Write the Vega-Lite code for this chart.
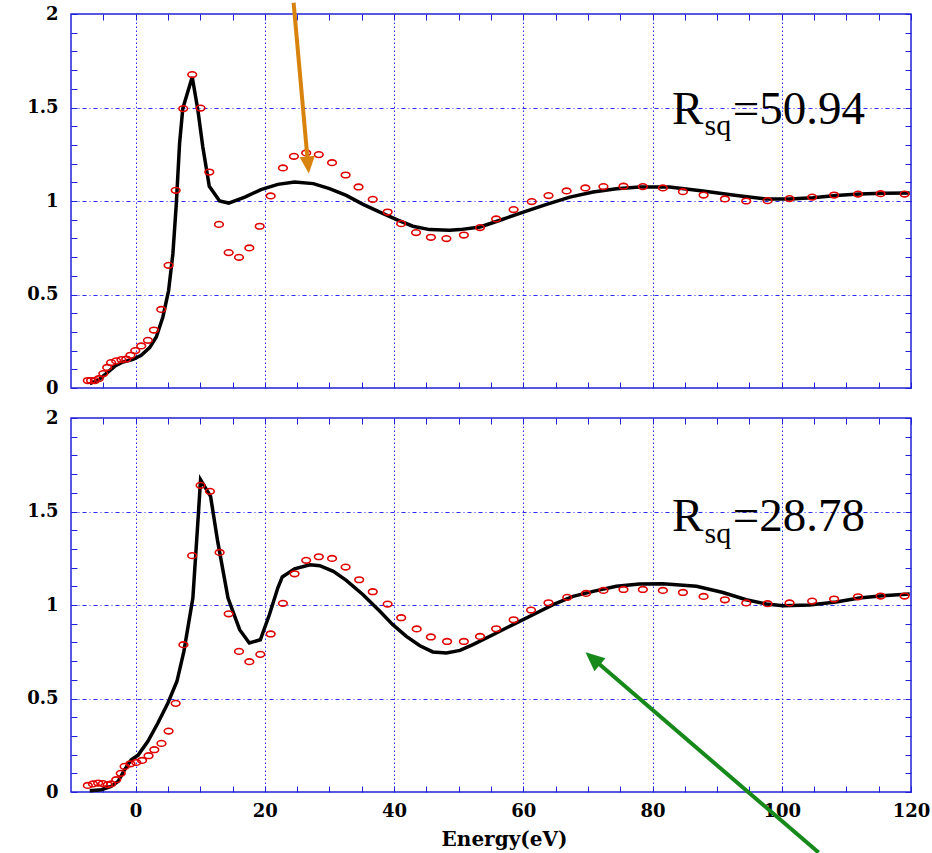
{
  "$schema": "https://vega.github.io/schema/vega-lite/v6.json",
  "padding": {"left": 25, "top": 0, "right": 0, "bottom": 0},
  "spacing": 30,
  "bounds": "flush",
  "background": "white",
  "config": {
    "view": {"stroke": "#2020d8", "strokeWidth": 1.5},
    "axis": {
      "labelFont": "DejaVu Serif", "labelFontWeight": "bold", "labelFontSize": 18, "labelColor": "#000000",
      "titleFont": "DejaVu Serif", "titleFontWeight": "bold", "titleFontSize": 20, "titleColor": "#000000",
      "domain": false, "tickColor": "#2020d8", "tickSize": -6, "tickWidth": 1,
      "gridColor": "#2a2af0", "gridWidth": 1, "labelOverlap": false, "labelFlush": false
    }
  },
  "datasets": {
    "fit_top": [
      {"e": -7.1, "v": 0.023}, {"e": -5.8, "v": 0.041}, {"e": -4.55, "v": 0.077}, {"e": -3.25, "v": 0.116},
      {"e": -1.96, "v": 0.139}, {"e": -0.4, "v": 0.153}, {"e": 0.87, "v": 0.175}, {"e": 2.17, "v": 0.216},
      {"e": 3.2, "v": 0.273}, {"e": 4.22, "v": 0.38}, {"e": 5.1, "v": 0.52}, {"e": 5.77, "v": 0.718},
      {"e": 6.3, "v": 0.986}, {"e": 6.8, "v": 1.307}, {"e": 7.3, "v": 1.494}, {"e": 8.76, "v": 1.663},
      {"e": 9.64, "v": 1.485}, {"e": 10.4, "v": 1.289}, {"e": 11.4, "v": 1.079}, {"e": 13.0, "v": 1.0},
      {"e": 14.4, "v": 0.989}, {"e": 16.9, "v": 1.021}, {"e": 19.4, "v": 1.061}, {"e": 22.0, "v": 1.089},
      {"e": 24.6, "v": 1.102}, {"e": 27.5, "v": 1.093}, {"e": 30.0, "v": 1.066}, {"e": 32.6, "v": 1.03},
      {"e": 35.2, "v": 0.982}, {"e": 37.8, "v": 0.941}, {"e": 40.4, "v": 0.9}, {"e": 42.9, "v": 0.865},
      {"e": 45.5, "v": 0.847}, {"e": 48.6, "v": 0.843}, {"e": 50.2, "v": 0.847}, {"e": 53.3, "v": 0.861},
      {"e": 56.4, "v": 0.897}, {"e": 60.0, "v": 0.941}, {"e": 63.6, "v": 0.982}, {"e": 67.2, "v": 1.021},
      {"e": 70.8, "v": 1.048}, {"e": 74.4, "v": 1.066}, {"e": 78.0, "v": 1.075}, {"e": 82.6, "v": 1.075},
      {"e": 87.8, "v": 1.053}, {"e": 93.0, "v": 1.03}, {"e": 97.6, "v": 1.011}, {"e": 101.2, "v": 1.011},
      {"e": 104.8, "v": 1.018}, {"e": 108.4, "v": 1.03}, {"e": 112.0, "v": 1.037}, {"e": 115.6, "v": 1.041},
      {"e": 119.8, "v": 1.043}
    ],
    "exp_top": [
      {"e": -7.4, "v": 0.04}, {"e": -6.9, "v": 0.04}, {"e": -6.3, "v": 0.04}, {"e": -5.7, "v": 0.05},
      {"e": -5.0, "v": 0.077}, {"e": -4.4, "v": 0.11}, {"e": -3.8, "v": 0.136}, {"e": -3.0, "v": 0.145},
      {"e": -2.2, "v": 0.152}, {"e": -1.45, "v": 0.155}, {"e": -0.8, "v": 0.175}, {"e": -0.05, "v": 0.2},
      {"e": 0.87, "v": 0.225}, {"e": 1.9, "v": 0.255}, {"e": 2.83, "v": 0.31}, {"e": 3.97, "v": 0.42},
      {"e": 5.1, "v": 0.656}, {"e": 6.2, "v": 1.057}, {"e": 7.37, "v": 1.494}, {"e": 8.76, "v": 1.676},
      {"e": 10.05, "v": 1.497}, {"e": 11.4, "v": 1.155}, {"e": 12.9, "v": 0.875}, {"e": 14.4, "v": 0.724},
      {"e": 16.0, "v": 0.699}, {"e": 17.6, "v": 0.749}, {"e": 19.2, "v": 0.865}, {"e": 20.9, "v": 1.027},
      {"e": 22.8, "v": 1.177}, {"e": 24.5, "v": 1.239}, {"e": 26.4, "v": 1.257}, {"e": 28.35, "v": 1.248},
      {"e": 30.4, "v": 1.205}, {"e": 32.5, "v": 1.139}, {"e": 34.5, "v": 1.075}, {"e": 36.7, "v": 1.009},
      {"e": 39.0, "v": 0.941}, {"e": 41.1, "v": 0.879}, {"e": 43.4, "v": 0.831}, {"e": 45.7, "v": 0.806},
      {"e": 48.1, "v": 0.799}, {"e": 50.8, "v": 0.818}, {"e": 53.3, "v": 0.858}, {"e": 55.8, "v": 0.904},
      {"e": 58.5, "v": 0.954}, {"e": 61.3, "v": 0.997}, {"e": 63.9, "v": 1.029}, {"e": 66.7, "v": 1.054},
      {"e": 69.6, "v": 1.07}, {"e": 72.4, "v": 1.077}, {"e": 75.5, "v": 1.079}, {"e": 78.5, "v": 1.077},
      {"e": 81.6, "v": 1.07}, {"e": 84.7, "v": 1.05}, {"e": 87.9, "v": 1.032}, {"e": 91.2, "v": 1.011},
      {"e": 94.5, "v": 1.0}, {"e": 97.8, "v": 1.002}, {"e": 101.2, "v": 1.013}, {"e": 104.7, "v": 1.021},
      {"e": 108.1, "v": 1.032}, {"e": 111.8, "v": 1.037}, {"e": 115.3, "v": 1.039}, {"e": 119.0, "v": 1.037}
    ],
    "fit_bot": [
      {"e": -7.1, "v": 0.007}, {"e": -5.3, "v": 0.012}, {"e": -3.8, "v": 0.03}, {"e": -2.7, "v": 0.057},
      {"e": -1.7, "v": 0.119}, {"e": -0.68, "v": 0.173}, {"e": 0.36, "v": 0.196}, {"e": 1.9, "v": 0.271},
      {"e": 3.45, "v": 0.369}, {"e": 5.0, "v": 0.476}, {"e": 6.4, "v": 0.592}, {"e": 7.47, "v": 0.752},
      {"e": 8.86, "v": 1.037}, {"e": 9.64, "v": 1.447}, {"e": 10.05, "v": 1.67}, {"e": 11.6, "v": 1.581},
      {"e": 12.7, "v": 1.34}, {"e": 14.3, "v": 1.037}, {"e": 16.1, "v": 0.868}, {"e": 17.6, "v": 0.797},
      {"e": 19.3, "v": 0.814}, {"e": 20.7, "v": 0.948}, {"e": 22.0, "v": 1.091}, {"e": 22.7, "v": 1.15},
      {"e": 24.6, "v": 1.193}, {"e": 27.0, "v": 1.215}, {"e": 28.5, "v": 1.21}, {"e": 30.6, "v": 1.18},
      {"e": 32.6, "v": 1.132}, {"e": 35.2, "v": 1.055}, {"e": 37.8, "v": 0.966}, {"e": 39.8, "v": 0.895},
      {"e": 41.9, "v": 0.832}, {"e": 44.0, "v": 0.782}, {"e": 46.0, "v": 0.749}, {"e": 48.1, "v": 0.743},
      {"e": 50.2, "v": 0.757}, {"e": 52.2, "v": 0.788}, {"e": 55.3, "v": 0.841}, {"e": 58.4, "v": 0.895},
      {"e": 61.5, "v": 0.948}, {"e": 64.6, "v": 1.002}, {"e": 67.7, "v": 1.046}, {"e": 70.8, "v": 1.073},
      {"e": 74.4, "v": 1.1}, {"e": 78.0, "v": 1.112}, {"e": 81.6, "v": 1.114}, {"e": 86.8, "v": 1.1},
      {"e": 90.9, "v": 1.067}, {"e": 94.5, "v": 1.028}, {"e": 97.6, "v": 1.005}, {"e": 100.2, "v": 0.996},
      {"e": 104.3, "v": 1.0}, {"e": 108.4, "v": 1.016}, {"e": 112.0, "v": 1.037}, {"e": 115.6, "v": 1.05},
      {"e": 119.8, "v": 1.059}
    ],
    "exp_bot": [
      {"e": -7.4, "v": 0.035}, {"e": -6.6, "v": 0.043}, {"e": -5.8, "v": 0.048}, {"e": -5.06, "v": 0.045},
      {"e": -4.3, "v": 0.039}, {"e": -3.8, "v": 0.043}, {"e": -3.0, "v": 0.066}, {"e": -2.3, "v": 0.1},
      {"e": -1.7, "v": 0.137}, {"e": -0.8, "v": 0.151}, {"e": 0.1, "v": 0.158}, {"e": 1.0, "v": 0.169},
      {"e": 2.0, "v": 0.194}, {"e": 2.9, "v": 0.226}, {"e": 4.0, "v": 0.26}, {"e": 5.1, "v": 0.326},
      {"e": 6.2, "v": 0.474}, {"e": 7.4, "v": 0.788}, {"e": 8.75, "v": 1.264}, {"e": 10.05, "v": 1.64},
      {"e": 11.5, "v": 1.608}, {"e": 13.0, "v": 1.281}, {"e": 14.4, "v": 0.953}, {"e": 16.0, "v": 0.752},
      {"e": 17.6, "v": 0.697}, {"e": 19.3, "v": 0.736}, {"e": 20.9, "v": 0.845}, {"e": 22.8, "v": 1.009},
      {"e": 24.6, "v": 1.167}, {"e": 26.4, "v": 1.239}, {"e": 28.35, "v": 1.258}, {"e": 30.4, "v": 1.249},
      {"e": 32.5, "v": 1.203}, {"e": 34.6, "v": 1.135}, {"e": 36.7, "v": 1.071}, {"e": 39.0, "v": 1.005},
      {"e": 41.1, "v": 0.932}, {"e": 43.5, "v": 0.872}, {"e": 45.7, "v": 0.829}, {"e": 48.2, "v": 0.805},
      {"e": 50.8, "v": 0.805}, {"e": 53.3, "v": 0.832}, {"e": 55.8, "v": 0.873}, {"e": 58.5, "v": 0.921},
      {"e": 61.2, "v": 0.973}, {"e": 63.9, "v": 1.012}, {"e": 66.8, "v": 1.041}, {"e": 69.7, "v": 1.062},
      {"e": 72.4, "v": 1.078}, {"e": 75.5, "v": 1.083}, {"e": 78.5, "v": 1.083}, {"e": 81.6, "v": 1.078},
      {"e": 84.7, "v": 1.067}, {"e": 87.9, "v": 1.046}, {"e": 91.2, "v": 1.028}, {"e": 94.5, "v": 1.011},
      {"e": 97.8, "v": 1.007}, {"e": 101.2, "v": 1.011}, {"e": 104.7, "v": 1.021}, {"e": 108.1, "v": 1.032},
      {"e": 111.8, "v": 1.044}, {"e": 115.3, "v": 1.048}, {"e": 119.0, "v": 1.048}
    ],
    "label_top_main": [{"e": 83.0, "v": 1.414, "t": "R"}, {"e": 92.4, "v": 1.414, "t": "=50.94"}],
    "label_top_sub": [{"e": 88.06, "v": 1.351, "t": "sq"}],
    "label_bot_main": [{"e": 83.0, "v": 1.394, "t": "R"}, {"e": 92.4, "v": 1.394, "t": "=28.78"}],
    "label_bot_sub": [{"e": 88.06, "v": 1.329, "t": "sq"}],
    "arrow_top": [{"e": 24.45, "v": 2.06, "e2": 26.68, "v2": 1.195}],
    "arrow_top_head": [{"e": 26.68, "v": 1.195}],
    "arrow_bot": [{"e": 105.7, "v": -0.324, "e2": 70.8, "v2": 0.712}],
    "arrow_bot_head": [{"e": 70.8, "v": 0.712}]
  },
  "vconcat": [
    {
      "width": 840, "height": 374,
      "layer": [
        {
          "data": {"name": "fit_top"},
          "mark": {"type": "line", "color": "#000000", "strokeWidth": 3.5},
          "encoding": {
            "x": {"field": "e", "type": "quantitative", "scale": {"domain": [-10, 120], "nice": false, "zero": false},
              "axis": {"orient": "bottom", "values": [-5,0,5,10,15,20,25,30,35,40,45,50,55,60,65,70,75,80,85,90,95,100,105,110,115,120],
                "labels": false, "title": null, "grid": true, "gridDash": [1.5, 2.5],
                "gridOpacity": {"condition": {"test": "datum.value % 20 === 0 && datum.value < 120", "value": 1}, "value": 0}}},
            "y": {"field": "v", "type": "quantitative", "scale": {"domain": [0, 2], "nice": false, "zero": false},
              "axis": {"orient": "left", "values": [0,0.1,0.2,0.3,0.4,0.5,0.6,0.7,0.8,0.9,1,1.1,1.2,1.3,1.4,1.5,1.6,1.7,1.8,1.9,2],
                "title": null, "labelPadding": 19,
                "labelExpr": "abs(datum.value*2 - round(datum.value*2)) < 0.001 ? format(datum.value, '~g') : ''",
                "grid": true, "gridDash": [4, 3, 1, 3],
                "gridOpacity": {"condition": {"test": "abs(datum.value*2 - round(datum.value*2)) < 0.001 && datum.value > 0.01 && datum.value < 1.99", "value": 1}, "value": 0}}}
          }
        },
        {
          "data": {"name": "exp_top"},
          "mark": {"type": "point", "shape": "M-1,0A1,0.65,0,1,1,1,0A1,0.65,0,1,1,-1,0Z", "filled": false, "color": "#e00000", "strokeWidth": 1.6, "size": 75, "opacity": 1},
          "encoding": {
            "x": {"field": "e", "type": "quantitative",
              "axis": {"orient": "top", "values": [-5,0,5,10,15,20,25,30,35,40,45,50,55,60,65,70,75,80,85,90,95,100,105,110,115,120], "labels": false, "title": null, "grid": false}},
            "y": {"field": "v", "type": "quantitative",
              "axis": {"orient": "right", "values": [0,0.1,0.2,0.3,0.4,0.5,0.6,0.7,0.8,0.9,1,1.1,1.2,1.3,1.4,1.5,1.6,1.7,1.8,1.9,2], "labels": false, "title": null, "grid": false}}
          }
        },
        {
          "data": {"name": "label_top_main"},
          "mark": {"type": "text", "font": "Liberation Serif", "fontSize": 47, "align": "left", "baseline": "alphabetic", "color": "#000000"},
          "encoding": {"x": {"field": "e", "type": "quantitative", "axis": null}, "y": {"field": "v", "type": "quantitative", "axis": null}, "text": {"field": "t"}}
        },
        {
          "data": {"name": "label_top_sub"},
          "mark": {"type": "text", "font": "Liberation Serif", "fontSize": 30, "align": "left", "baseline": "alphabetic", "color": "#000000"},
          "encoding": {"x": {"field": "e", "type": "quantitative", "axis": null}, "y": {"field": "v", "type": "quantitative", "axis": null}, "text": {"field": "t"}}
        },
        {
          "data": {"name": "arrow_top"},
          "mark": {"type": "rule", "color": "#d9830f", "strokeWidth": 4},
          "encoding": {"x": {"field": "e", "type": "quantitative", "axis": null}, "y": {"field": "v", "type": "quantitative", "axis": null}, "x2": {"field": "e2"}, "y2": {"field": "v2"}}
        },
        {
          "data": {"name": "arrow_top_head"},
          "mark": {"type": "point", "shape": "M0,1L-0.85,-0.9L0.85,-0.9Z", "filled": true, "color": "#d9830f", "opacity": 1, "size": 324, "angle": 354.8},
          "encoding": {"x": {"field": "e", "type": "quantitative", "axis": null}, "y": {"field": "v", "type": "quantitative", "axis": null}}
        }
      ],
      "resolve": {"axis": {"x": "independent", "y": "independent"}}
    },
    {
      "width": 840, "height": 374,
      "layer": [
        {
          "data": {"name": "fit_bot"},
          "mark": {"type": "line", "color": "#000000", "strokeWidth": 3.5},
          "encoding": {
            "x": {"field": "e", "type": "quantitative", "scale": {"domain": [-10, 120], "nice": false, "zero": false},
              "axis": {"orient": "bottom", "values": [-5,0,5,10,15,20,25,30,35,40,45,50,55,60,65,70,75,80,85,90,95,100,105,110,115,120],
                "labelExpr": "datum.value % 20 === 0 ? format(datum.value, 'd') : ''", "labelPadding": 16,
                "title": "Energy(eV)", "titlePadding": 9, "titleX": 433, "titleAlign": "center",
                "grid": true, "gridDash": [1.5, 2.5],
                "gridOpacity": {"condition": {"test": "datum.value % 20 === 0 && datum.value < 120", "value": 1}, "value": 0}}},
            "y": {"field": "v", "type": "quantitative", "scale": {"domain": [0, 2], "nice": false, "zero": false},
              "axis": {"orient": "left", "values": [0,0.1,0.2,0.3,0.4,0.5,0.6,0.7,0.8,0.9,1,1.1,1.2,1.3,1.4,1.5,1.6,1.7,1.8,1.9,2],
                "title": null, "labelPadding": 19,
                "labelExpr": "abs(datum.value*2 - round(datum.value*2)) < 0.001 ? format(datum.value, '~g') : ''",
                "grid": true, "gridDash": [4, 3, 1, 3],
                "gridOpacity": {"condition": {"test": "abs(datum.value*2 - round(datum.value*2)) < 0.001 && datum.value > 0.01 && datum.value < 1.99", "value": 1}, "value": 0}}}
          }
        },
        {
          "data": {"name": "exp_bot"},
          "mark": {"type": "point", "shape": "M-1,0A1,0.65,0,1,1,1,0A1,0.65,0,1,1,-1,0Z", "filled": false, "color": "#e00000", "strokeWidth": 1.6, "size": 75, "opacity": 1},
          "encoding": {
            "x": {"field": "e", "type": "quantitative",
              "axis": {"orient": "top", "values": [-5,0,5,10,15,20,25,30,35,40,45,50,55,60,65,70,75,80,85,90,95,100,105,110,115,120], "labels": false, "title": null, "grid": false}},
            "y": {"field": "v", "type": "quantitative",
              "axis": {"orient": "right", "values": [0,0.1,0.2,0.3,0.4,0.5,0.6,0.7,0.8,0.9,1,1.1,1.2,1.3,1.4,1.5,1.6,1.7,1.8,1.9,2], "labels": false, "title": null, "grid": false}}
          }
        },
        {
          "data": {"name": "label_bot_main"},
          "mark": {"type": "text", "font": "Liberation Serif", "fontSize": 47, "align": "left", "baseline": "alphabetic", "color": "#000000"},
          "encoding": {"x": {"field": "e", "type": "quantitative", "axis": null}, "y": {"field": "v", "type": "quantitative", "axis": null}, "text": {"field": "t"}}
        },
        {
          "data": {"name": "label_bot_sub"},
          "mark": {"type": "text", "font": "Liberation Serif", "fontSize": 30, "align": "left", "baseline": "alphabetic", "color": "#000000"},
          "encoding": {"x": {"field": "e", "type": "quantitative", "axis": null}, "y": {"field": "v", "type": "quantitative", "axis": null}, "text": {"field": "t"}}
        },
        {
          "data": {"name": "arrow_bot"},
          "mark": {"type": "rule", "color": "#17891a", "strokeWidth": 4},
          "encoding": {"x": {"field": "e", "type": "quantitative", "axis": null}, "y": {"field": "v", "type": "quantitative", "axis": null}, "x2": {"field": "e2"}, "y2": {"field": "v2"}}
        },
        {
          "data": {"name": "arrow_bot_head"},
          "mark": {"type": "point", "shape": "M0,1L-0.85,-0.9L0.85,-0.9Z", "filled": true, "color": "#17891a", "opacity": 1, "size": 400, "angle": 130.5},
          "encoding": {"x": {"field": "e", "type": "quantitative", "axis": null}, "y": {"field": "v", "type": "quantitative", "axis": null}}
        }
      ],
      "resolve": {"axis": {"x": "independent", "y": "independent"}}
    }
  ]
}
